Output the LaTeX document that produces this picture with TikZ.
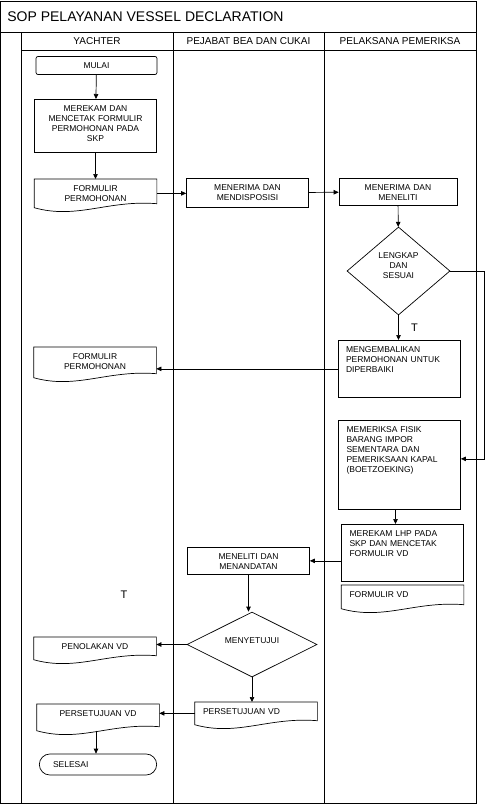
\documentclass[tikz,border=0pt]{standalone}
\usepackage{fontspec}
\setmainfont{Liberation Sans}
\usepackage{tikz}
\usetikzlibrary{shapes.geometric,shapes.misc,arrows.meta,calc}

\begin{document}
\begin{tikzpicture}[x=1pt,y=-1pt,line width=0.7pt,
    every node/.style={font=\fontsize{8.5}{10}\selectfont},
    box/.style={draw,anchor=north,text width=114pt,align=center,inner xsep=4pt,inner ysep=4pt,text height=8pt},
    lbox/.style={box,text width=106pt,inner xsep=8pt,align=left},
    doc/.style={box,draw=none},
    ldoc/.style={lbox,draw=none},
    ujung/.style={draw,rounded corners=2pt,minimum width=121pt,minimum height=18pt},
    pilih/.style={draw,diamond,inner sep=0pt,align=center,text height=8pt},
    alir/.style={-{Triangle[length=5pt,width=4.5pt]}}]
    \useasboundingbox (0,0) rectangle (485,806);
    \draw (0.5,1) rectangle (476,803);
    \draw (0.5,32) -- (476,32);
    \draw (21,50) -- (476,50);
    \foreach \x in {21,173,324} \draw (\x,32) -- (\x,803);

    \node[anchor=west,inner sep=0pt,font=\fontsize{14}{16}\selectfont] (judul) at (7,17) {SOP PELAYANAN VESSEL DECLARATION};
    \foreach \x/\n/\t in {97/y/YACHTER,248.5/p/PEJABAT BEA DAN CUKAI,400/q/PELAKSANA PEMERIKSA}
        \node[font=\fontsize{10}{12}\selectfont] (lajur\n) at (\x,41.5) {\t};

    \node[ujung] (mulai) at (96.5,65.5) {MULAI};
    \node[box,text depth=37pt] (merekam) at (95.5,99) {MEREKAM DAN\\MENCETAK FORMULIR\\PERMOHONAN PADA\\SKP};
    \node[doc,text depth=12pt] (doca) at (95.5,179) {FORMULIR\\PERMOHONAN};
    \node[box,text depth=13pt] (disposisi) at (247.5,178) {MENERIMA DAN\\MENDISPOSISI};
    \node[box,text width=110pt,text depth=11pt] (teliti) at (398,178) {MENERIMA DAN\\MENELITI};
    \node[pilih,text width=45pt,aspect=1.17,minimum width=103pt,minimum height=88pt,text depth=34pt] (lengkap) at (398.5,271) {LENGKAP\\DAN\\SESUAI};
    \node[lbox,text depth=41pt] (kembali) at (399,340) {MENGEMBALIKAN\\PERMOHONAN UNTUK\\DIPERBAIKI};
    \node[doc,text depth=14pt] (docb) at (95,347) {FORMULIR\\PERMOHONAN};
    \node[lbox,text depth=73pt] (periksa) at (399.5,420) {MEMERIKSA FISIK\\BARANG IMPOR\\SEMENTARA DAN\\PEMERIKSAAN KAPAL\\(BOETZOEKING)};
    \node[lbox,text depth=41pt] (lhp) at (402.5,524) {MEREKAM LHP PADA\\SKP DAN MENCETAK\\FORMULIR VD};
    \node[ldoc,text depth=7pt] (docc) at (402.5,585) {FORMULIR VD};
    \node[box,text depth=11pt] (tandatangan) at (248.5,547) {MENELITI DAN\\MENANDATAN};
    \node[pilih,text width=60pt,aspect=2,minimum width=130pt,minimum height=65pt,text depth=10pt] (setuju) at (252,644.5) {MENYETUJUI};
    \node[doc,text depth=6pt] (docd) at (95,637) {PENOLAKAN VD};
    \node[ldoc,text depth=6pt] (doce) at (256,702) {PERSETUJUAN VD};
    \node[doc,text depth=10pt] (docf) at (98,704) {PERSETUJUAN VD};
    \node[draw,rounded rectangle,minimum width=124pt,minimum height=21pt,text width=90pt,align=left] (selesai) at (98,764.5) {SELESAI};
    \node[font=\fontsize{11}{12}\selectfont] (tb) at (124,595) {T};

    \foreach \d in {doca,docb,docc,docd,doce,docf}
        \draw (\d.south west) -- (\d.north west) -- (\d.north east) -- ([yshift=4pt]\d.south east)
            .. controls ($(\d.south west)!0.6!(\d.south east)+(0,-8)$) and ($(\d.south west)!0.35!(\d.south east)+(0,12)$) .. (\d.south west) -- cycle;

    \draw[alir] (mulai) -- (merekam);
    \draw[alir] (merekam) -- (doca);
    \draw[alir] (doca.east) -- (doca.east -| disposisi.west);
    \draw[alir] (disposisi) -- (teliti);
    \draw[alir] (teliti) -- (lengkap);
    \draw[alir] (lengkap.south) -- (lengkap.south |- kembali.north) node[midway,right=9pt,font=\fontsize{11}{12}\selectfont] (ta) {T};
    \draw[alir] (kembali.west) -- (kembali.west -| docb.east);
    \draw[alir] (lengkap.east) -- ++(34,0) |- ([yshift=6pt]periksa.east);
    \draw[alir] ([xshift=-4pt]periksa.south) -- ([xshift=-4pt]periksa.south |- lhp.north);
    \draw[alir] (lhp.west |- tandatangan.east) -- (tandatangan.east);
    \draw[alir] (tandatangan.south) -- (tandatangan.south |- setuju.north);
    \draw[alir] (setuju.west) -- (setuju.west -| docd.east);
    \draw[alir] (setuju.south) -- (setuju.south |- doce.north);
    \draw[alir] (doce.west) -- (doce.west -| docf.east);
    \draw[alir] ([xshift=-2pt]docf.south) -- ([xshift=-2pt]docf.south |- selesai.north);
\end{tikzpicture}
\end{document}
